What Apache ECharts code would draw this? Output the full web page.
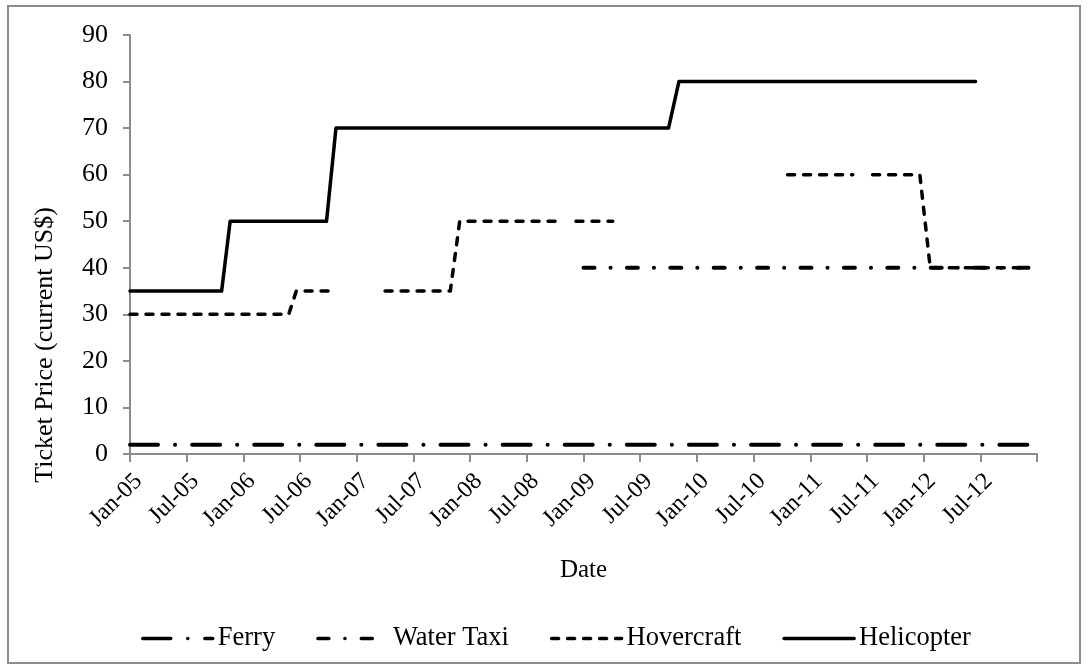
<!DOCTYPE html>
<html>
<head>
<meta charset="utf-8">
<title>Ticket Price</title>
<script src="https://cdn.jsdelivr.net/npm/echarts@6/dist/echarts.min.js"></script>
<style>
  html, body { margin: 0; padding: 0; background: #fff; }
  #main { width: 1088px; height: 672px; }
</style>
</head>
<body>
<div id="main"></div>
<script>
// x = months after Jan-05 (0 = Jan-05, 96 = Jan-13), y = ticket price
var monthNames = ['Jan', 'Jul'];
var yTicks = [0, 10, 20, 30, 40, 50, 60, 70, 80, 90];

var ferry = [[0, 2], [95.5, 2]];
var waterTaxi = [[48, 40], [95.5, 40]];
var hovercraft = [
  [0, 30], [16.8, 30], [17.6, 35], [21.5, 35], null,
  [27.0, 35], [33.9, 35], [34.9, 50], [45.0, 50], null,
  [47.2, 50], [51.1, 50], null,
  [69.6, 60], [76.5, 60], null,
  [78.6, 60], [83.6, 60], [84.7, 40], [94.8, 40]
];
var helicopter = [
  [0, 35], [9.7, 35], [10.6, 50], [20.8, 50], [21.8, 70],
  [57.0, 70], [58.1, 80], [89.5, 80]
];

var font = 'Liberation Serif';
var axisGray = '#8c8c8c';

function monthLabel(v) {
  if (v >= 96) return '';
  var year = 5 + Math.floor(v / 12);
  var name = monthNames[(v % 12) / 6];
  return name + '-' + (year < 10 ? '0' + year : year);
}

function lineSeries(name, data, width, dash) {
  return {
    name: name,
    type: 'line',
    data: data,
    showSymbol: false,
    symbol: 'none',
    connectNulls: false,
    animation: false,
    lineStyle: { color: '#000', width: width, type: dash, cap: 'round', join: 'round' },
    itemStyle: { color: '#000' }
  };
}

var chartDom = document.getElementById('main');
var myChart = echarts.init(chartDom);
var option = {
  backgroundColor: '#fff',
  animation: false,
  grid: { left: 130, right: 51, top: 35, bottom: 218, containLabel: false, outerBoundsMode: 'none' },
  xAxis: {
    type: 'value',
    min: 0,
    max: 96,
    interval: 6,
    name: 'Date',
    nameLocation: 'middle',
    nameGap: 104,
    nameTextStyle: { fontFamily: font, fontSize: 25, color: '#000' },
    axisLine: { show: true, lineStyle: { color: axisGray, width: 2 } },
    axisTick: { show: true, length: 8, lineStyle: { color: axisGray, width: 2 } },
    splitLine: { show: false },
    axisLabel: {
      rotate: 45,
      margin: 15,
      align: 'right',
      verticalAlign: 'top',
      fontFamily: font,
      fontSize: 24,
      color: '#000',
      showMaxLabel: true,
      formatter: monthLabel
    }
  },
  yAxis: {
    type: 'value',
    min: yTicks[0],
    max: yTicks[yTicks.length - 1],
    interval: 10,
    axisLine: { show: true, lineStyle: { color: axisGray, width: 2 } },
    axisTick: { show: true, length: 7, lineStyle: { color: axisGray, width: 2 } },
    splitLine: { show: false },
    axisLabel: { margin: 22, fontFamily: font, fontSize: 26, color: '#000' }
  },
  legend: {
    left: 136,
    top: 620,
    itemWidth: 70,
    itemHeight: 12,
    itemGap: 41,
    itemStyle: { opacity: 0 },
    lineStyle: { width: 3.5 },
    textStyle: { fontFamily: font, fontSize: 26.5, color: '#000' },
    data: ['Ferry', 'Water Taxi', 'Hovercraft', 'Helicopter']
  },
  graphic: [
    {
      type: 'rect',
      shape: { x: 8, y: 6, width: 1072, height: 657 },
      style: { fill: 'none', stroke: axisGray, lineWidth: 2 },
      silent: true,
      z: -1
    },
    {
      type: 'text',
      x: 45,
      y: 345,
      rotation: Math.PI / 2,
      style: {
        text: 'Ticket Price (current US$)',
        font: '26px "Liberation Serif"',
        fill: '#000',
        align: 'center',
        verticalAlign: 'middle'
      }
    }
  ],
  series: [
    lineSeries('Ferry', ferry, 4, [28, 17, 0.1, 17]),
    lineSeries('Water Taxi', waterTaxi, 4, [11, 16, 0.1, 16.3]),
    lineSeries('Hovercraft', hovercraft, 3.5, [7, 9]),
    lineSeries('Helicopter', helicopter, 3.5, 'solid')
  ]
};
myChart.setOption(option);
</script>
</body>
</html>
